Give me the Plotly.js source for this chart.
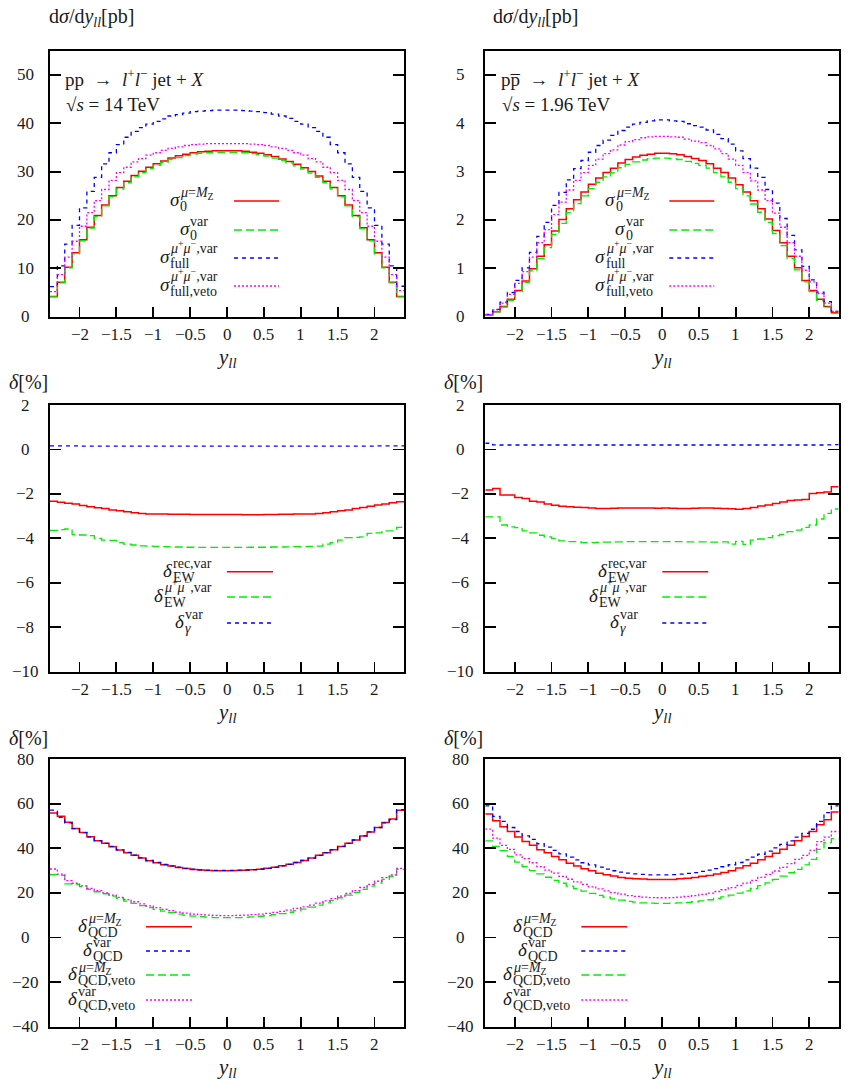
<!DOCTYPE html>
<html><head><meta charset="utf-8">
<script src="https://cdn.plot.ly/plotly-3.0.1.min.js"></script>
<style>html,body{margin:0;padding:0;background:#fff}</style>
</head><body>
<div id="plot" style="width:856px;height:1089px"></div>
<script>
// ---------------- DATA ----------------
const yEdges = [-2.4,-2.3,-2.2,-2.1,-2.0,-1.9,-1.8,-1.7,-1.6,-1.5,-1.4,-1.3,-1.2,-1.1,-1.0,-0.9,-0.8,-0.7,-0.6,-0.5,-0.4,-0.3,-0.2,-0.1,0.0,0.1,0.2,0.3,0.4,0.5,0.6,0.7,0.8,0.9,1.0,1.1,1.2,1.3,1.4,1.5,1.6,1.7,1.8,1.9,2.0,2.1,2.2,2.3,2.4];

// LHC (14 TeV) dsigma/dy [pb]
const lhcSigma0MZ = [4.2,7.1,10.2,13.2,15.9,18.5,20.9,23.1,25.0,26.7,28.0,29.2,30.1,30.9,31.6,32.2,32.8,33.3,33.6,33.9,34.1,34.2,34.3,34.3,34.3,34.3,34.2,34.0,33.8,33.5,33.1,32.6,32.1,31.5,30.8,30.0,29.1,28.0,26.7,25.0,23.1,20.9,18.4,15.9,13.2,10.2,7.1,4.2];
const lhcSigma0Var = [4.1,7.0,10.1,13.0,15.7,18.3,20.7,22.9,24.8,26.4,27.7,28.9,29.8,30.6,31.3,31.9,32.5,32.9,33.3,33.6,33.8,33.9,34.0,34.0,34.0,34.0,33.9,33.7,33.5,33.2,32.8,32.3,31.8,31.2,30.5,29.7,28.8,27.7,26.4,24.8,22.9,20.7,18.2,15.7,13.0,10.1,7.0,4.1];
const lhcFull = [6.2,10.5,15.0,18.9,22.5,25.9,28.8,31.6,33.9,35.6,37.1,38.3,39.1,39.8,40.4,40.9,41.5,41.8,42.1,42.4,42.5,42.6,42.7,42.7,42.7,42.7,42.6,42.5,42.4,42.2,41.9,41.5,41.0,40.4,39.8,39.1,38.3,37.1,35.6,33.9,31.6,28.8,25.9,22.5,18.9,15.0,10.5,6.3];
const lhcFullVeto = [5.2,8.7,12.3,15.6,18.7,21.5,24.0,26.3,28.2,29.8,30.9,32.0,32.7,33.4,33.9,34.4,34.8,35.1,35.4,35.6,35.7,35.8,35.8,35.8,35.8,35.8,35.8,35.7,35.6,35.4,35.1,34.8,34.4,33.9,33.4,32.7,32.0,30.9,29.8,28.2,26.3,24.0,21.5,18.7,15.6,12.3,8.7,5.4];

// Tevatron (1.96 TeV) dsigma/dy [pb]
const tevSigma0MZ = [0.03,0.10,0.21,0.36,0.54,0.74,0.99,1.25,1.49,1.77,2.01,2.23,2.42,2.58,2.74,2.87,2.98,3.07,3.18,3.25,3.30,3.34,3.36,3.38,3.38,3.37,3.35,3.31,3.27,3.23,3.16,3.07,2.98,2.87,2.73,2.58,2.40,2.23,2.02,1.78,1.53,1.25,1.01,0.75,0.54,0.36,0.21,0.08];
const tevSigma0Var = [0.03,0.10,0.20,0.34,0.52,0.71,0.95,1.20,1.43,1.70,1.93,2.15,2.34,2.50,2.65,2.78,2.89,2.98,3.08,3.15,3.20,3.24,3.27,3.28,3.28,3.27,3.25,3.21,3.17,3.13,3.07,2.98,2.89,2.78,2.65,2.50,2.33,2.16,1.95,1.72,1.47,1.20,0.97,0.72,0.52,0.34,0.20,0.07];
const tevFull = [0.05,0.15,0.30,0.50,0.75,1.01,1.33,1.66,1.95,2.30,2.57,2.83,3.06,3.23,3.40,3.54,3.65,3.75,3.85,3.92,3.98,4.02,4.05,4.07,4.07,4.05,4.04,3.99,3.95,3.92,3.86,3.77,3.68,3.57,3.43,3.27,3.07,2.88,2.63,2.35,2.03,1.68,1.38,1.04,0.76,0.51,0.31,0.11];
const tevFullVeto = [0.04,0.14,0.28,0.46,0.69,0.93,1.23,1.53,1.80,2.11,2.37,2.62,2.82,2.98,3.13,3.26,3.37,3.45,3.55,3.62,3.66,3.70,3.72,3.73,3.73,3.72,3.71,3.67,3.63,3.60,3.54,3.47,3.37,3.26,3.13,2.98,2.81,2.62,2.40,2.14,1.85,1.53,1.25,0.96,0.72,0.48,0.28,0.11];

// EW corrections [%]
const lhcEWrec = [-2.33,-2.38,-2.42,-2.46,-2.52,-2.58,-2.62,-2.66,-2.72,-2.76,-2.80,-2.85,-2.88,-2.90,-2.91,-2.91,-2.92,-2.92,-2.92,-2.93,-2.93,-2.93,-2.93,-2.93,-2.93,-2.93,-2.94,-2.94,-2.94,-2.93,-2.93,-2.92,-2.92,-2.91,-2.91,-2.90,-2.88,-2.85,-2.80,-2.76,-2.72,-2.66,-2.61,-2.56,-2.50,-2.45,-2.40,-2.35];
const lhcEWmumu = [-3.64,-3.61,-3.58,-3.83,-3.85,-3.88,-4.00,-4.08,-4.09,-4.19,-4.26,-4.30,-4.34,-4.35,-4.36,-4.37,-4.38,-4.39,-4.40,-4.40,-4.41,-4.41,-4.41,-4.41,-4.41,-4.41,-4.41,-4.40,-4.40,-4.40,-4.39,-4.39,-4.38,-4.37,-4.37,-4.36,-4.35,-4.26,-4.19,-4.08,-3.97,-3.96,-3.93,-3.78,-3.75,-3.66,-3.66,-3.51];
const lhcGamma = [0.16,0.16,0.16,0.16,0.15,0.15,0.15,0.15,0.15,0.15,0.15,0.15,0.15,0.15,0.15,0.15,0.15,0.15,0.15,0.15,0.15,0.15,0.15,0.15,0.15,0.15,0.15,0.15,0.15,0.15,0.15,0.15,0.15,0.15,0.15,0.15,0.15,0.15,0.15,0.15,0.15,0.15,0.15,0.15,0.16,0.16,0.16,0.16];
const tevEWrec = [-1.83,-1.76,-2.05,-2.05,-2.16,-2.21,-2.33,-2.36,-2.45,-2.51,-2.56,-2.58,-2.60,-2.61,-2.63,-2.66,-2.66,-2.65,-2.63,-2.64,-2.64,-2.63,-2.64,-2.65,-2.64,-2.65,-2.66,-2.66,-2.65,-2.64,-2.64,-2.65,-2.66,-2.67,-2.69,-2.66,-2.61,-2.54,-2.50,-2.43,-2.36,-2.30,-2.27,-2.25,-1.98,-1.95,-1.91,-1.68];
const tevEWmumu = [-3.03,-3.03,-3.40,-3.48,-3.52,-3.66,-3.75,-3.86,-3.93,-4.00,-4.11,-4.15,-4.15,-4.19,-4.19,-4.18,-4.17,-4.16,-4.16,-4.15,-4.15,-4.15,-4.15,-4.15,-4.15,-4.15,-4.15,-4.16,-4.16,-4.16,-4.17,-4.17,-4.16,-4.26,-4.14,-4.27,-4.08,-4.03,-3.97,-3.88,-3.82,-3.70,-3.63,-3.51,-3.40,-3.13,-2.88,-2.68];
const tevGamma = [0.28,0.21,0.20,0.20,0.20,0.20,0.20,0.20,0.20,0.20,0.20,0.20,0.20,0.20,0.20,0.20,0.20,0.20,0.20,0.20,0.20,0.20,0.20,0.20,0.20,0.20,0.20,0.20,0.20,0.20,0.20,0.20,0.20,0.20,0.20,0.20,0.20,0.20,0.20,0.20,0.20,0.20,0.20,0.20,0.20,0.20,0.21,0.22];

// QCD corrections [%]
const lhcQCDmz = [55.8,54.3,51.6,48.9,47.1,45.1,43.3,42.2,40.7,39.2,38.0,36.8,35.6,34.4,33.5,32.6,32.0,31.4,30.9,30.5,30.2,30.0,29.9,29.9,29.9,30.0,30.1,30.3,30.6,31.0,31.5,32.1,32.8,33.6,34.5,35.6,36.8,38.0,39.3,40.8,42.2,43.7,45.5,47.3,49.3,51.5,53.1,57.0];
const lhcQCDvar = [57.1,53.8,51.4,48.8,47.0,45.1,43.4,42.2,40.8,39.3,38.1,36.9,35.7,34.5,33.6,32.7,32.1,31.5,31.0,30.6,30.3,30.2,30.1,30.1,30.1,30.2,30.3,30.4,30.7,31.0,31.5,32.1,32.8,33.6,34.5,35.6,36.8,38.0,39.3,40.8,42.2,43.7,45.5,47.3,49.3,51.4,52.8,57.3];
const lhcQCDvetoMz = [28.2,27.8,24.0,23.8,22.8,21.6,20.5,19.6,18.5,17.5,16.3,15.3,14.3,13.4,12.6,11.8,11.2,10.5,10.0,9.6,9.3,9.1,8.9,8.9,8.9,8.9,9.0,9.2,9.5,9.8,10.2,10.7,11.3,12.0,12.7,13.6,14.5,15.5,16.6,17.8,19.0,20.2,21.6,23.0,24.4,26.0,27.4,30.5];
const lhcQCDvetoVar = [30.7,28.4,25.5,24.3,23.1,22.0,21.0,20.0,19.0,18.0,17.0,16.0,15.1,14.2,13.4,12.6,12.0,11.4,10.9,10.5,10.2,10.0,9.9,9.8,9.8,9.9,10.0,10.2,10.5,10.8,11.2,11.7,12.3,13.0,13.7,14.5,15.4,16.4,17.4,18.5,19.7,21.0,22.4,23.8,25.2,26.8,28.0,31.0];
const tevQCDmz = [55.3,52.3,49.6,47.5,45.0,43.0,41.3,39.3,38.0,36.3,34.8,33.3,32.0,30.8,29.9,28.8,28.1,27.5,26.9,26.6,26.3,26.2,26.0,26.0,26.0,26.0,26.3,26.5,26.9,27.4,27.8,28.4,29.1,29.9,31.1,32.1,33.3,34.8,36.3,37.8,39.6,41.3,43.3,45.3,47.5,50.5,52.8,56.2];
const tevQCDvar = [59.0,54.3,52.0,49.3,47.5,45.5,44.0,42.0,40.5,39.0,37.5,36.0,34.8,33.5,32.5,31.5,30.6,29.9,29.3,28.8,28.5,28.3,28.1,28.1,28.1,28.2,28.4,28.7,29.1,29.6,30.2,30.9,31.7,32.6,33.6,34.8,36.0,37.3,38.7,40.2,41.7,43.3,45.0,46.7,48.5,52.0,56.0,59.0];
const tevQCDvetoMz = [43.3,40.8,38.9,36.3,33.8,31.8,30.0,28.5,27.0,25.6,24.3,23.0,21.9,20.8,19.8,18.9,18.1,17.3,16.7,16.2,15.8,15.5,15.4,15.3,15.3,15.4,15.5,15.7,16.0,16.4,16.9,17.5,18.2,19.0,19.9,20.9,22.0,23.2,24.5,26.0,27.5,29.0,30.5,32.5,35.0,39.5,42.5,44.3];
const tevQCDvetoVar = [48.6,44.5,41.3,39.5,37.0,35.3,33.5,31.8,30.2,28.8,27.4,26.1,24.9,23.8,22.7,21.8,20.9,20.1,19.4,18.8,18.4,18.1,17.9,17.8,17.8,17.9,18.1,18.4,18.8,19.3,19.9,20.6,21.4,22.3,23.3,24.4,25.6,26.9,28.3,29.8,31.4,33.1,35.0,36.8,39.0,43.0,45.0,47.5];

// Tick values and labels
const xTickVals = [-2,-1.5,-1,-0.5,0,0.5,1,1.5,2];
const xTickText = ['−2','−1.5','−1','−0.5','0','0.5','1','1.5','2'];
const lhcSigmaTickVals = [0,10,20,30,40,50];
const lhcSigmaTickText = ['0','10','20','30','40','50'];
const tevSigmaTickVals = [0,1,2,3,4,5];
const tevSigmaTickText = ['0','1','2','3','4','5'];
const ewTickVals = [-10,-8,-6,-4,-2,0,2];
const ewTickText = ['−10','−8','−6','−4','−2','0','2'];
const qcdTickVals = [-40,-20,0,20,40,60,80];
const qcdTickText = ['−40','−20','0','20','40','60','80'];

// ---------------- LAYOUT / STYLE ----------------
const W = 856, H = 1089;
const FONT = 'Liberation Serif';
const TXT = '#1a1a1a';
const COL = {red:'#ff0000', green:'#00ee00', blue:'#0000ff', magenta:'#ff00ff'};
const DASH = {green:'8px,4px', blue:'4px,4px', magenta:'2px,2px'};
const colPx = [[50,404],[485.3,838.7]];
const rowPx = [[50.7,316.7],[405,671.7],[759,1026.7]];
const F = s => ({family:FONT, size:s, color:TXT});

// superscript strings with a vertical tweak (nested scripts change the text box)
const MZsup = ['<i>μ</i>=<i>M</i><sub>Z</sub>', -7.0];
const MMsup = ['<i>μ</i><sup>+</sup><i>μ</i><sup>−</sup>,var', -11.0];
const VARsup = ['var', -8.5];
const RECsup = ['rec,var', -8.5];

const panels = [
  {row:0,col:0, yrange:[0,55], tv:lhcSigmaTickVals, tt:lhcSigmaTickText,
   series:[[lhcSigma0MZ,'red'],[lhcSigma0Var,'green'],[lhcFull,'blue'],[lhcFullVeto,'magenta']],
   ytitle:'d<i>σ</i>/d<i>y</i><sub><i>ll</i></sub>[pb]', ytitlePx:[47,18],
   notes:[['pp  →  <i>l</i><sup>+</sup><i>l</i><sup>−</sup> jet + <i>X</i>',63,78],['√<i>s</i> = 14 TeV',64,105]],
   legend:{sx:[234,279], base:'σ', items:[[169,201,MZsup,'0','red'],[179,230,VARsup,'0','green'],[159,258,MMsup,'full','blue'],[159,286,MMsup,'full,veto','magenta']]}},
  {row:0,col:1, yrange:[0,5.5], tv:tevSigmaTickVals, tt:tevSigmaTickText,
   series:[[tevSigma0MZ,'red'],[tevSigma0Var,'green'],[tevFull,'blue'],[tevFullVeto,'magenta']],
   ytitle:'d<i>σ</i>/d<i>y</i><sub><i>ll</i></sub>[pb]', ytitlePx:[491,18],
   notes:[['pp\u0305  →  <i>l</i><sup>+</sup><i>l</i><sup>−</sup> jet + <i>X</i>',499,78],['√<i>s</i> = 1.96 TeV',500,105]],
   legend:{sx:[669.3,714.3], base:'σ', items:[[604.3,201,MZsup,'0','red'],[614.3,230,VARsup,'0','green'],[594.3,258,MMsup,'full','blue'],[594.3,286,MMsup,'full,veto','magenta']]}},
  {row:1,col:0, yrange:[-10,2], tv:ewTickVals, tt:ewTickText,
   series:[[lhcEWrec,'red'],[lhcEWmumu,'green'],[lhcGamma,'blue']],
   ytitle:'<i>δ</i>[%]', ytitlePx:[7,382], notes:[],
   legend:{sx:[227,273], base:'δ', items:[[162,571.7,RECsup,'EW','red'],[153,597,MMsup,'EW','green'],[174,623,VARsup,'<i>γ</i>','blue']]}},
  {row:1,col:1, yrange:[-10,2], tv:ewTickVals, tt:ewTickText,
   series:[[tevEWrec,'red'],[tevEWmumu,'green'],[tevGamma,'blue']],
   ytitle:'<i>δ</i>[%]', ytitlePx:[442,382], notes:[],
   legend:{sx:[662.3,708.3], base:'δ', items:[[597.3,571.7,RECsup,'EW','red'],[588.3,597,MMsup,'EW','green'],[609.3,623,VARsup,'<i>γ</i>','blue']]}},
  {row:2,col:0, yrange:[-40,80], tv:qcdTickVals, tt:qcdTickText,
   series:[[lhcQCDmz,'red'],[lhcQCDvar,'blue'],[lhcQCDvetoMz,'green'],[lhcQCDvetoVar,'magenta']],
   ytitle:'<i>δ</i>[%]', ytitlePx:[7,738], notes:[],
   legend:{sx:[146,192], base:'δ', items:[[77,926.7,MZsup,'QCD','red'],[82,951,VARsup,'QCD','blue'],[67,975,MZsup,'QCD,veto','green'],[67,1000,VARsup,'QCD,veto','magenta']]}},
  {row:2,col:1, yrange:[-40,80], tv:qcdTickVals, tt:qcdTickText,
   series:[[tevQCDmz,'red'],[tevQCDvar,'blue'],[tevQCDvetoMz,'green'],[tevQCDvetoVar,'magenta']],
   ytitle:'<i>δ</i>[%]', ytitlePx:[442,738], notes:[],
   legend:{sx:[581.3,627.3], base:'δ', items:[[512.3,926.7,MZsup,'QCD','red'],[517.3,951,VARsup,'QCD','blue'],[502.3,975,MZsup,'QCD,veto','green'],[502.3,1000,VARsup,'QCD,veto','magenta']]}}
];

const px = x => x / W;
const py = y => 1 - y / H;
const canvas = document.createElement('canvas');
const ctx = canvas.getContext('2d');
function textW(s, size, italic){ ctx.font = (italic?'italic ':'') + size + "px 'Liberation Serif'"; return ctx.measureText(s).width; }

const traces = [], annotations = [], shapes = [];
const layout = {width:W, height:H, margin:{l:0,r:0,t:0,b:0}, paper_bgcolor:'#fff', plot_bgcolor:'#fff',
  showlegend:false, font:F(17)};

const BASE = 19, SCR = 14;

panels.forEach((p, i) => {
  const n = i + 1, sfx = n === 1 ? '' : String(n);
  const [x0, x1] = colPx[p.col], [yt, yb] = rowPx[p.row];
  layout['xaxis' + sfx] = {domain:[px(x0), px(x1)], range:[-2.4, 2.4], anchor:'y' + sfx,
    showline:true, linecolor:'#000', linewidth:2, mirror:true, ticks:'inside', ticklen:10, tickwidth:1.8, tickcolor:'#000',
    tickvals:xTickVals, showticklabels:false, showgrid:false, zeroline:false, fixedrange:true};
  layout['yaxis' + sfx] = {domain:[py(yb), py(yt)], range:p.yrange, anchor:'x' + sfx,
    showline:true, linecolor:'#000', linewidth:2, mirror:'ticks', ticks:'inside', ticklen:11, tickwidth:1.8, tickcolor:'#000',
    tickvals:p.tv, showticklabels:false, showgrid:false, zeroline:false, fixedrange:true};

  p.series.forEach(([vals, c]) => {
    traces.push({x:yEdges, y:vals.concat([vals[vals.length - 1]]), xaxis:'x' + sfx, yaxis:'y' + sfx,
      mode:'lines', line:{shape:'hv', color:COL[c], width:c === 'red' ? 1.5 : 1.3, dash:c === 'red' ? 'solid' : DASH[c]},
      hoverinfo:'skip'});
  });

  // y tick labels (centred, as in the original)
  p.tv.forEach((v, k) => annotations.push({xref:'paper', yref:'y' + sfx, x:px(x0 - 25), y:v, text:p.tt[k],
    showarrow:false, xanchor:'center', yanchor:'middle', font:F(17)}));
  // x tick labels
  xTickVals.forEach((v, k) => annotations.push({xref:'x' + sfx, yref:'paper', x:v, y:py(yb + 18), text:xTickText[k],
    showarrow:false, xanchor:'center', yanchor:'middle', font:F(17)}));
  // x title
  annotations.push({xref:'paper', yref:'paper', x:px((x0 + x1) / 2), y:py(yb + 41), text:'<i>y</i><sub><i>ll</i></sub>',
    showarrow:false, xanchor:'center', yanchor:'middle', font:F(21)});
  // y title
  annotations.push({xref:'paper', yref:'paper', x:px(p.ytitlePx[0]), y:py(p.ytitlePx[1]), text:p.ytitle,
    showarrow:false, xanchor:'left', yanchor:'middle', font:F(20)});
  // notes
  p.notes.forEach(([t, x, y]) => annotations.push({xref:'paper', yref:'paper', x:px(x), y:py(y), text:t,
    showarrow:false, xanchor:'left', yanchor:'middle', font:F(19)}));
  // legend
  const L = p.legend;
  const bw = textW(L.base, BASE, true);
  L.items.forEach(([bx, by, sup, sub, c]) => {
    annotations.push({xref:'paper', yref:'paper', x:px(bx), y:py(by - 1.5), text:'<i>' + L.base + '</i>',
      showarrow:false, xanchor:'left', yanchor:'middle', font:F(BASE), borderpad:0});
    annotations.push({xref:'paper', yref:'paper', x:px(bx + bw + 1), y:py(by + sup[1]), text:sup[0],
      showarrow:false, xanchor:'left', yanchor:'middle', font:F(SCR), borderpad:0});
    annotations.push({xref:'paper', yref:'paper', x:px(bx + bw + 1), y:py(by + 5.5), text:sub,
      showarrow:false, xanchor:'left', yanchor:'middle', font:F(SCR), borderpad:0});
    shapes.push({type:'line', xref:'paper', yref:'paper', x0:px(L.sx[0]), x1:px(L.sx[1]), y0:py(by), y1:py(by),
      line:{color:COL[c], width:c === 'red' ? 1.5 : 1.3, dash:c === 'red' ? 'solid' : DASH[c]}});
  });
});

layout.annotations = annotations;
layout.shapes = shapes;
Plotly.newPlot('plot', traces, layout, {displayModeBar:false, staticPlot:true});
</script>
</body></html>
